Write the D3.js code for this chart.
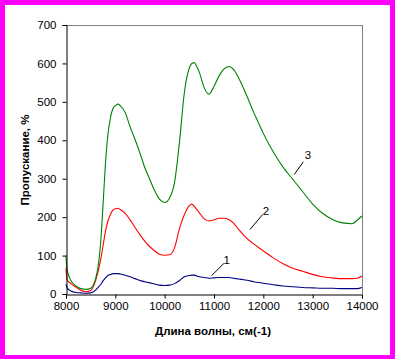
<!DOCTYPE html>
<html><head><meta charset="utf-8">
<script src="https://cdn.jsdelivr.net/npm/d3@7"></script>
<style>
html,body{margin:0;padding:0;background:#fff;}
svg{display:block;}
text{font-family:Arial,"Liberation Sans",sans-serif;}
</style></head>
<body><svg id="chart" width="395" height="359"></svg>
<script>
const wavenumbers = [8000,8020,8100,8200,8300,8400,8500,8600,8650,8700,8750,8800,8850,8900,8950,9000,9050,9100,9200,9300,9400,9500,9600,9700,9800,9900,10000,10100,10200,10300,10400,10500,10550,10600,10650,10700,10800,10900,11000,11100,11200,11300,11400,11500,11600,11700,11800,11900,12000,12200,12400,12600,12800,13000,13200,13400,13600,13800,13900,14000];
const series1 = [25,16,8,4,3,2,3,10,17,24,34,42,48,51,53,53,53,52,49,45,40,35,32,29,26,23,22,23,27,35,45,48,49,49,47,45,43,41,42,43,43,43,41,39,37,35,32,30,28,24,21,19,17,16,15,15,14,14,14,17];
const series2 = [68,38,27,18,10,6,9,35,58,88,125,163,190,207,218,222,223,220,210,193,173,154,137,123,112,103,101,102,120,170,207,230,234,228,220,212,196,190,193,197,197,194,184,168,153,141,131,121,112,94,79,67,59,51,45,42,40,40,41,47];
const series3 = [100,65,35,21,14,12,15,40,70,130,230,340,415,458,482,490,494,490,472,435,402,366,328,298,268,246,238,250,290,395,525,588,600,602,592,578,537,520,540,567,585,592,584,562,535,505,474,446,418,370,330,298,266,234,210,194,185,183,192,203];
const seriesNames = ["1","2","3"];
const seriesColors = ["#000080","#ff0000","#008000"];
const xTicks = [8000,9000,10000,11000,12000,13000,14000];
const yTicks = [0,100,200,300,400,500,600,700];
const xTitle = "Длина волны, см(-1)";
const yTitle = "Пропускание, %";
// annotation: label position and leader line (data coords)
const annoLabels = ["1","2","3"];
const annoText = [[11258,88],[12054,217],[12906,362]];
const annoLineFrom = [[11203,80],[11988,207],[12811,344]];
const annoLineTo = [[10954,48],[11730,168],[12628,311]];

const svg = d3.select("#chart");
const W = 395, H = 359;
svg.append("rect").attr("x",0).attr("y",0).attr("width",W).attr("height",H).attr("fill","#ff00ff");
svg.append("rect").attr("x",5).attr("y",5).attr("width",W-10).attr("height",H-9).attr("fill","#ffffff");

const L = 66, R = 362, T = 25, B = 294;
const x = d3.scaleLinear().domain([8000,14000]).range([L,R]);
const y = d3.scaleLinear().domain([0,700]).range([B,T]);

// frame top/right gray
svg.append("line").attr("x1",L).attr("x2",R).attr("y1",T+0.5).attr("y2",T+0.5).attr("stroke","#808080");
svg.append("line").attr("x1",R+0.5).attr("x2",R+0.5).attr("y1",T).attr("y2",B).attr("stroke","#808080");

const allSeries = [series1, series2, series3];
const line = d3.line().x((d,i)=>x(wavenumbers[i])).y(d=>y(d)).curve(d3.curveMonotoneX);
allSeries.forEach((s,k)=>{
  svg.append("path").datum(s).attr("d",line).attr("fill","none")
    .attr("stroke",seriesColors[k]).attr("stroke-width",1.1);
});

const xAxis = svg.append("g").attr("transform",`translate(0,${B+0.5})`)
  .call(d3.axisBottom(x).tickValues(xTicks).tickFormat(d3.format("d")).tickSizeOuter(0).tickSize(4).tickPadding(3));
const yAxis = svg.append("g").attr("transform",`translate(${L+0.5},0)`)
  .call(d3.axisLeft(y).tickValues(yTicks).tickFormat(d3.format("d")).tickSizeOuter(0).tickSize(4).tickPadding(6));
[xAxis,yAxis].forEach(g=>{
  g.selectAll("path,line").attr("stroke","#000");
  g.selectAll("text").attr("font-size","11.5px").attr("fill","#000").attr("font-family","Arial, 'Liberation Sans', sans-serif");
});

svg.append("text").attr("x",213).attr("y",335).attr("text-anchor","middle")
  .attr("font-size","11.5px").attr("font-weight","bold").text(xTitle);
svg.append("text").attr("transform","translate(29,160) rotate(-90)").attr("text-anchor","middle")
  .attr("font-size","11.5px").attr("font-weight","bold").text(yTitle);

annoLabels.forEach((lab,i)=>{
  svg.append("line").attr("x1",x(annoLineFrom[i][0])).attr("y1",y(annoLineFrom[i][1]))
    .attr("x2",x(annoLineTo[i][0])).attr("y2",y(annoLineTo[i][1])).attr("stroke","#000").attr("stroke-width",1);
  svg.append("text").attr("x",x(annoText[i][0])).attr("y",y(annoText[i][1])+4)
    .attr("text-anchor","middle").attr("font-size","11.5px").text(lab);
});
</script></body></html>
